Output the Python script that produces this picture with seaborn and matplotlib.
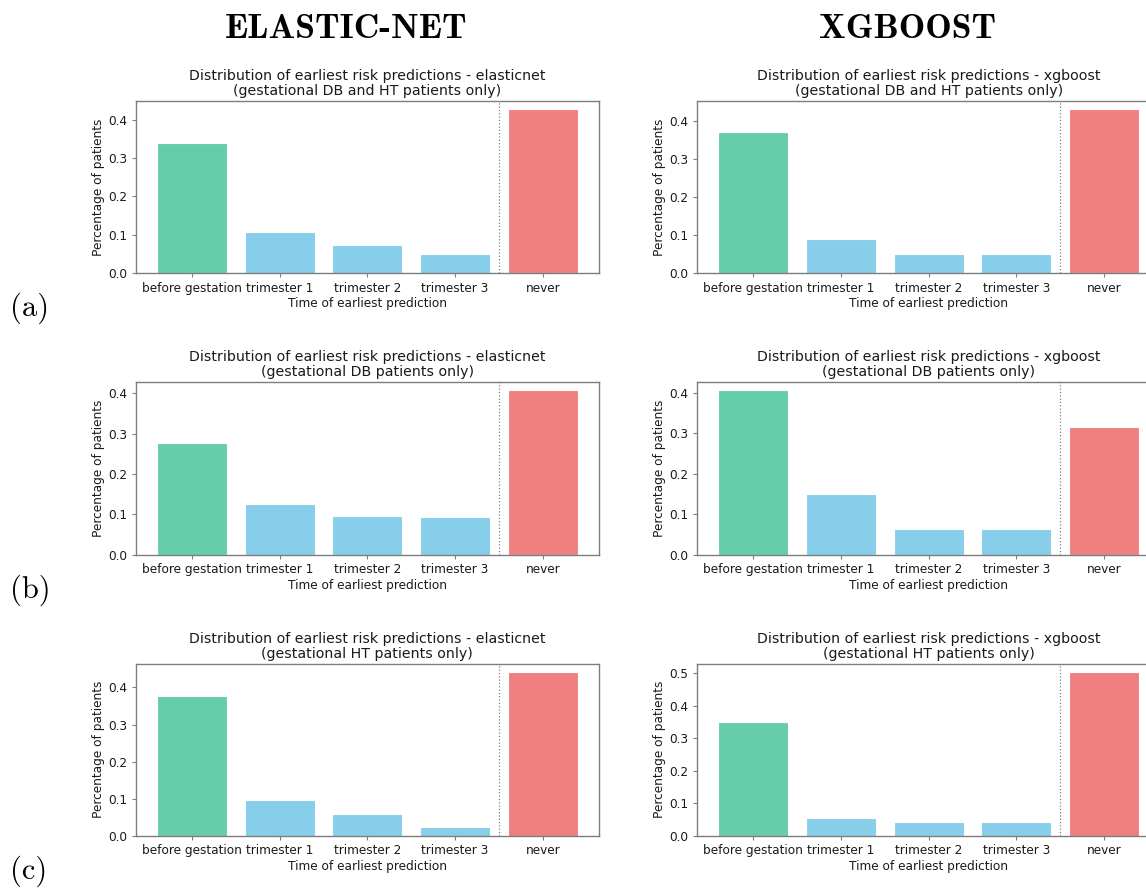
import matplotlib
matplotlib.use("Agg")
import matplotlib.pyplot as plt
import seaborn as sns
import pandas as pd

# Prediction timing categories (x axis)
categories = ["before gestation", "trimester 1", "trimester 2", "trimester 3", "never"]

# Share of patients whose earliest risk prediction falls in each category
elasticnet_db_ht = [0.339, 0.108, 0.073, 0.050, 0.428]
xgboost_db_ht = [0.372, 0.090, 0.051, 0.051, 0.433]
elasticnet_db = [0.278, 0.126, 0.097, 0.093, 0.408]
xgboost_db = [0.407, 0.151, 0.063, 0.063, 0.315]
elasticnet_ht = [0.376, 0.097, 0.060, 0.024, 0.442]
xgboost_ht = [0.349, 0.054, 0.044, 0.044, 0.504]

models = ["elasticnet", "xgboost"]
model_headers = ["ELASTIC-NET", "XGBOOST"]
cohorts = ["gestational DB and HT patients only",
           "gestational DB patients only",
           "gestational HT patients only"]
row_tags = ["(a)", "(b)", "(c)"]
panel_values = [[elasticnet_db_ht, xgboost_db_ht],
                [elasticnet_db, xgboost_db],
                [elasticnet_ht, xgboost_ht]]

bar_colors = ["#66CDAA", "#87CEEB", "#87CEEB", "#87CEEB", "#F08080"]

FS = 8.7
TITLE_FS = 10.2
W, H = 1146, 888
plt.rcParams.update({
    "font.family": "DejaVu Sans",
    "font.size": FS,
    "axes.edgecolor": "#7d7d7d",
    "axes.linewidth": 1.0,
    "xtick.color": "#7d7d7d",
    "ytick.color": "#7d7d7d",
    "xtick.labelcolor": "#1a1a1a",
    "ytick.labelcolor": "#1a1a1a",
    "xtick.major.size": 3.0,
    "ytick.major.size": 3.0,
    "xtick.major.width": 0.8,
    "ytick.major.width": 0.8,
    "text.color": "#1a1a1a",
    "axes.labelcolor": "#1a1a1a",
})

fig = plt.figure(figsize=(W / 100, H / 100), dpi=100)

col_left = [135.7, 697.0]
ax_w = 463.3
ax_h = 172.6
row_top = [100.7, 382.0, 663.5]

for r in range(3):
    for c in range(2):
        left = col_left[c] / W
        bottom = 1 - (row_top[r] + ax_h) / H
        ax = fig.add_axes([left, bottom, ax_w / W, ax_h / H])
        df = pd.DataFrame({"time": categories, "share": panel_values[r][c]})
        sns.barplot(data=df, x="time", y="share", hue="time", palette=bar_colors,
                    legend=False, ax=ax, width=0.8, saturation=1,
                    edgecolor="white", linewidth=0.8)
        ax.axvline(3.5, color="#808080", linestyle=":", linewidth=0.9)
        ax.set_xmargin(0.05)
        ax.autoscale(enable=True, axis="x", tight=False)
        ax.set_title(f"Distribution of earliest risk predictions - {models[c]}\n({cohorts[r]})",
                     fontsize=TITLE_FS, pad=4, linespacing=1.1)
        ax.set_xlabel("Time of earliest prediction", fontsize=FS, labelpad=2)
        ax.set_ylabel("Percentage of patients", fontsize=FS, labelpad=2.5)
        ax.tick_params(labelsize=FS, pad=3)

# Column headers and row tags
fig.text(346 / W, 1 - 38 / H, model_headers[0], fontfamily="cmb10",
         fontsize=25.5, ha="center", va="baseline", color="black")
fig.text(908 / W, 1 - 38 / H, model_headers[1], fontfamily="cmb10",
         fontsize=25.5, ha="center", va="baseline", color="black")
for r, tag in enumerate(row_tags):
    fig.text(10 / W, 1 - (316 + 281.3 * r) / H, tag, fontfamily="cmr10",
             fontsize=22, ha="left", va="baseline", color="black")

fig.savefig("out.png", dpi=100)
